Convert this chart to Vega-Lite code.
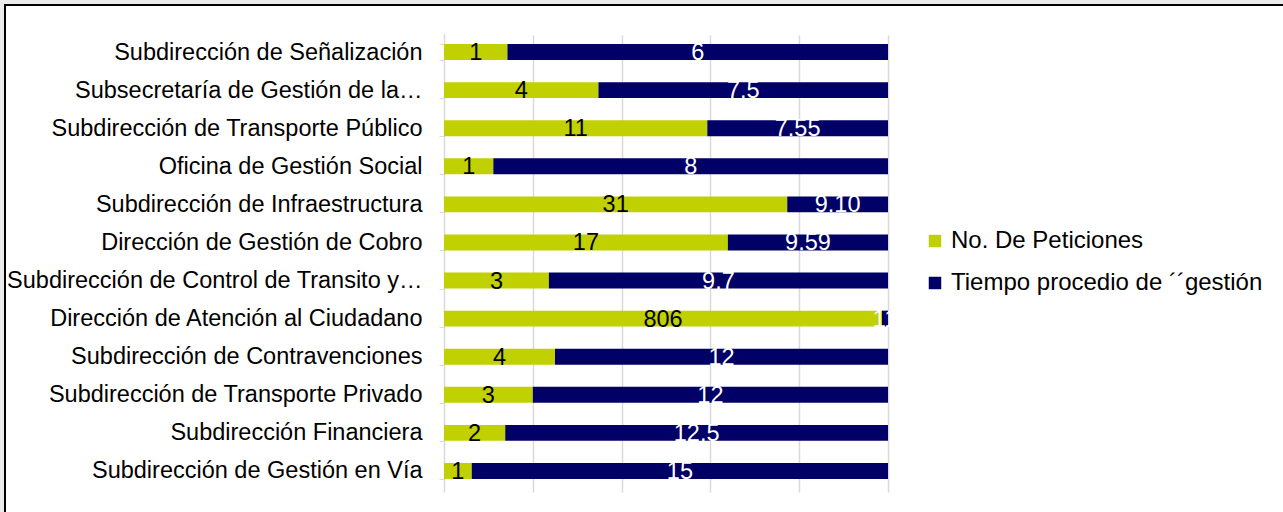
{
  "$schema": "https://vega.github.io/schema/vega-lite/v6.json",
  "width": 1286,
  "height": 515,
  "autosize": {"type": "none"},
  "padding": {"left": 5, "top": 5, "right": -8, "bottom": -8},
  "background": "#ebebeb",
  "config": {
    "view": {"fill": "white", "stroke": "black", "strokeWidth": 2},
    "font": "Liberation Sans"
  },
  "data": {
    "values": [
      {"area": "Subdirección de Señalización", "serie": "No. De Peticiones", "valor": 1, "etiqueta": "1"},
      {"area": "Subdirección de Señalización", "serie": "Tiempo procedio de ´´gestión", "valor": 6, "etiqueta": "6"},
      {"area": "Subsecretaría de Gestión de la…", "serie": "No. De Peticiones", "valor": 4, "etiqueta": "4"},
      {"area": "Subsecretaría de Gestión de la…", "serie": "Tiempo procedio de ´´gestión", "valor": 7.5, "etiqueta": "7.5"},
      {"area": "Subdirección de Transporte Público", "serie": "No. De Peticiones", "valor": 11, "etiqueta": "11"},
      {"area": "Subdirección de Transporte Público", "serie": "Tiempo procedio de ´´gestión", "valor": 7.55, "etiqueta": "7.55"},
      {"area": "Oficina de Gestión Social", "serie": "No. De Peticiones", "valor": 1, "etiqueta": "1"},
      {"area": "Oficina de Gestión Social", "serie": "Tiempo procedio de ´´gestión", "valor": 8, "etiqueta": "8"},
      {"area": "Subdirección de Infraestructura", "serie": "No. De Peticiones", "valor": 31, "etiqueta": "31"},
      {"area": "Subdirección de Infraestructura", "serie": "Tiempo procedio de ´´gestión", "valor": 9.10, "etiqueta": "9.10"},
      {"area": "Dirección de Gestión de Cobro", "serie": "No. De Peticiones", "valor": 17, "etiqueta": "17"},
      {"area": "Dirección de Gestión de Cobro", "serie": "Tiempo procedio de ´´gestión", "valor": 9.59, "etiqueta": "9.59"},
      {"area": "Subdirección de Control de Transito y…", "serie": "No. De Peticiones", "valor": 3, "etiqueta": "3"},
      {"area": "Subdirección de Control de Transito y…", "serie": "Tiempo procedio de ´´gestión", "valor": 9.7, "etiqueta": "9.7"},
      {"area": "Dirección de Atención al Ciudadano", "serie": "No. De Peticiones", "valor": 806, "etiqueta": "806"},
      {"area": "Dirección de Atención al Ciudadano", "serie": "Tiempo procedio de ´´gestión", "valor": 11, "etiqueta": "11"},
      {"area": "Subdirección de Contravenciones", "serie": "No. De Peticiones", "valor": 4, "etiqueta": "4"},
      {"area": "Subdirección de Contravenciones", "serie": "Tiempo procedio de ´´gestión", "valor": 12, "etiqueta": "12"},
      {"area": "Subdirección de Transporte Privado", "serie": "No. De Peticiones", "valor": 3, "etiqueta": "3"},
      {"area": "Subdirección de Transporte Privado", "serie": "Tiempo procedio de ´´gestión", "valor": 12, "etiqueta": "12"},
      {"area": "Subdirección Financiera ", "serie": "No. De Peticiones", "valor": 2, "etiqueta": "2"},
      {"area": "Subdirección Financiera ", "serie": "Tiempo procedio de ´´gestión", "valor": 12.5, "etiqueta": "12.5"},
      {"area": "Subdirección de Gestión en Vía", "serie": "No. De Peticiones", "valor": 1, "etiqueta": "1"},
      {"area": "Subdirección de Gestión en Vía", "serie": "Tiempo procedio de ´´gestión", "valor": 15, "etiqueta": "15"}
    ]
  },
  "encoding": {
    "y": {
      "field": "area",
      "type": "nominal",
      "sort": null,
      "scale": {"range": [28, 485], "paddingInner": 0.58, "paddingOuter": 0.29},
      "axis": {
        "title": null,
        "offset": -439,
        "labelFontSize": 23.5,
        "labelColor": "black",
        "labelPadding": 17,
        "labelLimit": 600,
        "tickSize": 5,
        "tickColor": "#d9d9d9",
        "domainColor": "#d9d9d9",
        "tickBand": "extent",
        "grid": false
      }
    },
    "x": {
      "field": "valor",
      "type": "quantitative",
      "stack": "normalize",
      "scale": {"domain": [0, 1], "range": [439, 883]},
      "axis": {
        "title": null,
        "values": [0, 0.2, 0.4, 0.6, 0.8, 1],
        "labels": false,
        "ticks": false,
        "domain": false,
        "grid": true,
        "gridColor": "#d9d9d9",
        "gridWidth": 1.5
      }
    },
    "order": {"field": "serie", "sort": "ascending"}
  },
  "layer": [
    {
      "mark": {"type": "bar"},
      "encoding": {
        "color": {
          "field": "serie",
          "type": "nominal",
          "scale": {
            "domain": ["No. De Peticiones", "Tiempo procedio de ´´gestión"],
            "range": ["#C0D000", "#000066"]
          },
          "legend": {
            "title": null,
            "orient": "none",
            "legendX": 918,
            "legendY": 224,
            "padding": 0,
            "labelFontSize": 24,
            "labelColor": "black",
            "labelLimit": 600,
            "symbolType": "square",
            "symbolSize": 156,
            "symbolStrokeWidth": 0,
            "labelOffset": 4,
            "rowPadding": 18
          }
        }
      }
    },
    {
      "mark": {"type": "text", "fontSize": 23.5, "baseline": "middle", "align": "center", "dy": 1},
      "encoding": {
        "x": {
          "field": "valor",
          "type": "quantitative",
          "stack": "normalize",
          "bandPosition": 0.5
        },
        "text": {"field": "etiqueta"},
        "color": {
          "condition": {"test": "datum.serie === 'No. De Peticiones'", "value": "black"},
          "value": "white"
        }
      }
    }
  ]
}
